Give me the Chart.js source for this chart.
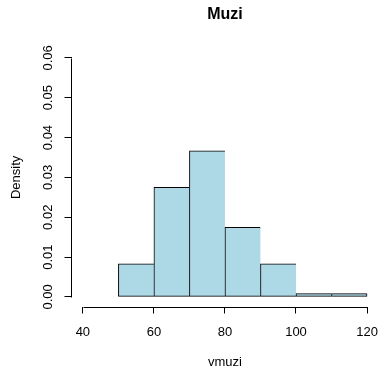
<!DOCTYPE html>
<html>
<head>
<meta charset="utf-8">
<script src="https://cdn.jsdelivr.net/npm/chart.js@4/dist/chart.umd.min.js"></script>
<style>
  html, body { margin: 0; padding: 0; background: #fff; }
  #wrap { width: 381px; height: 369px; }
</style>
</head>
<body>
<div id="wrap"><canvas id="c" width="381" height="369"></canvas></div>
<script>
// Histogram data
const breaks = [50, 60, 70, 80, 90, 100, 110, 120];
const density = [0.008333, 0.0275, 0.036667, 0.0175, 0.008333, 0.000833, 0.000833];
const xTicks = [40, 60, 80, 100, 120];
const yTicks = [0, 0.01, 0.02, 0.03, 0.04, 0.05, 0.06];
const yTickLabels = ['0.00', '0.01', '0.02', '0.03', '0.04', '0.05', '0.06'];
const titleText = 'Muzi';
const xLabel = 'vmuzi';
const yLabel = 'Density';

const FONT = "'Liberation Sans', Arial, Helvetica, sans-serif";

const points = density.map((d, i) => ({ x: (breaks[i] + breaks[i + 1]) / 2, y: d }));
const lastIdx = density.length - 1;

const axisLines = {
  id: 'axisLines',
  afterDraw(chart) {
    const { ctx } = chart;
    const xs = chart.scales.x, ys = chart.scales.y;
    ctx.save();
    ctx.strokeStyle = '#000';
    ctx.lineWidth = 1;
    const yb = Math.round(xs.top) + 0.5;
    ctx.beginPath();
    ctx.moveTo(Math.round(xs.getPixelForValue(xTicks[0])) + 0.5, yb);
    ctx.lineTo(Math.round(xs.getPixelForValue(xTicks[xTicks.length - 1])) + 0.5, yb);
    ctx.stroke();
    const xl = Math.round(ys.right) - 0.5;
    ctx.beginPath();
    ctx.moveTo(xl, Math.round(ys.getPixelForValue(yTicks[0])) + 0.5);
    ctx.lineTo(xl, Math.round(ys.getPixelForValue(yTicks[yTicks.length - 1])) + 0.5);
    ctx.stroke();
    ctx.restore();
  }
};

new Chart(document.getElementById('c'), {
  type: 'bar',
  data: {
    datasets: [{
      data: points,
      backgroundColor: '#ADD8E6',
      borderColor: '#000',
      borderWidth: (ctx) => ({ top: 1, left: 1, bottom: 1, right: ctx.dataIndex === lastIdx ? 1 : 0 }),
      borderSkipped: false,
      barPercentage: 1,
      categoryPercentage: 1
    }]
  },
  options: {
    responsive: false,
    animation: false,
    devicePixelRatio: 1,
    layout: { padding: { left: 0, right: 2.6, top: 0, bottom: 0 } },
    plugins: {
      legend: { display: false },
      tooltip: { enabled: false },
      title: {
        display: true,
        text: titleText,
        fullSize: false,
        color: '#000',
        font: { family: FONT, size: 16, weight: 'bold', lineHeight: 1.2 },
        padding: { top: 4.6, bottom: 24.5 }
      }
    },
    scales: {
      x: {
        type: 'linear',
        offset: false,
        min: 36.8,
        max: 123.2,
        afterBuildTicks: (s) => { s.ticks = xTicks.map(v => ({ value: v })); },
        afterFit: (s) => { s.height = 62.5; s.paddingLeft = 0; s.paddingRight = 0; },
        border: { display: false },
        grid: { display: true, offset: false, drawOnChartArea: false, drawTicks: true, tickLength: 7, color: '#000', lineWidth: 1 },
        ticks: {
          autoSkip: false, maxRotation: 0, minRotation: 0,
          padding: 11.5, color: '#000',
          font: { family: FONT, size: 13 },
          callback: (v) => String(v)
        },
        title: {
          display: true, text: xLabel, color: '#000',
          font: { family: FONT, size: 13, lineHeight: 1 },
          padding: { top: 0, bottom: 0 }
        }
      },
      y: {
        type: 'linear',
        min: -0.0024,
        max: 0.0624,
        afterBuildTicks: (s) => { s.ticks = yTicks.map(v => ({ value: v })); },
        afterFit: (s) => { s.width = 71.5; s.paddingTop = 0; s.paddingBottom = 0; },
        border: { display: false },
        grid: { display: true, drawOnChartArea: false, drawTicks: true, tickLength: 7, color: '#000', lineWidth: 1 },
        ticks: {
          autoSkip: false, minRotation: 90, maxRotation: 90,
          crossAlign: 'center',
          padding: 3.5, color: '#000',
          font: { family: FONT, size: 13 },
          callback: (v, i) => yTickLabels[i]
        },
        title: {
          display: true, text: yLabel, color: '#000',
          font: { family: FONT, size: 13, lineHeight: 1.2 },
          padding: { top: 8.7, bottom: 0 }
        }
      }
    }
  },
  plugins: [axisLines]
});
</script>
</body>
</html>
